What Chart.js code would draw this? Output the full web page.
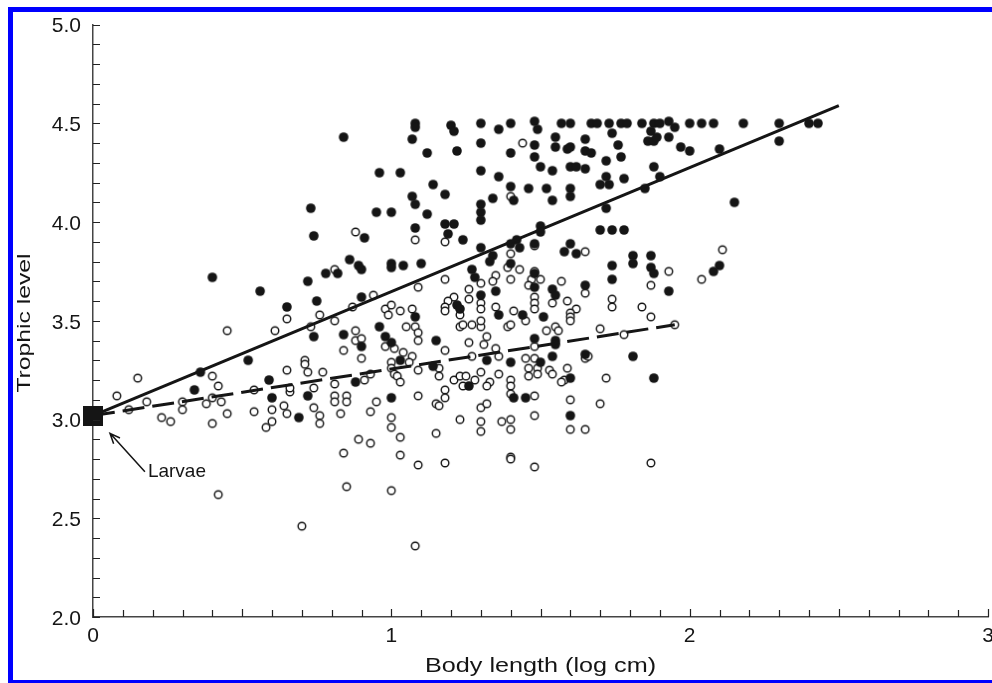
<!DOCTYPE html>
<html>
<head>
<meta charset="utf-8">
<title>Trophic level vs body length</title>
<script src="https://cdn.jsdelivr.net/npm/chart.js@4.4.0/dist/chart.umd.min.js"></script>
<style>
  html, body { margin: 0; padding: 0; background: #fff; }
  canvas { display: block; }
</style>
</head>
<body>
<canvas id="trophic" width="992" height="683"></canvas>
<script>
// filled circles [log body length, trophic level]
const filledPoints = [
  [0.40,3.72],[0.56,3.65],[0.74,3.93],[0.78,3.74],[0.72,3.70],[0.65,3.57],[0.75,3.60],[0.74,3.42],
  [0.52,3.30],[0.36,3.24],[0.34,3.15],[0.59,3.20],[0.60,3.11],[0.72,3.12],[0.69,3.01],[0.73,4.07],
  [0.84,4.43],[1.08,4.50],[1.08,4.48],[1.20,4.49],[1.21,4.46],[1.30,4.50],[1.36,4.47],[1.40,4.50],
  [1.48,4.51],[1.49,4.47],[1.57,4.50],[1.60,4.50],[1.67,4.50],[1.69,4.50],[1.73,4.50],[1.74,4.45],
  [1.77,4.50],[1.79,4.50],[1.84,4.50],[1.88,4.50],[1.87,4.46],[1.86,4.41],[1.88,4.41],
  [1.07,4.42],[1.12,4.35],[1.22,4.36],[1.30,4.40],[1.40,4.35],[1.48,4.39],[1.48,4.33],[1.55,4.43],
  [1.55,4.38],[1.59,4.37],[1.60,4.38],[1.65,4.42],[1.65,4.36],[1.67,4.35],[1.76,4.39],[1.77,4.33],
  [1.72,4.31],[0.96,4.25],[1.03,4.25],[1.30,4.26],[1.36,4.23],[1.50,4.28],[1.54,4.26],[1.60,4.28],
  [1.62,4.28],[1.65,4.27],[1.72,4.23],[1.70,4.19],[1.73,4.19],[1.78,4.22],[1.88,4.28],
  [1.14,4.19],[1.18,4.14],[1.40,4.18],[1.46,4.17],[1.52,4.17],[1.60,4.17],[1.60,4.13],[1.07,4.13],
  [1.08,4.09],[1.12,4.04],[1.34,4.12],[1.41,4.11],[1.54,4.11],[0.95,4.05],[1.00,4.05],[1.30,4.09],
  [1.30,4.05],[1.30,4.01],[1.18,3.99],[1.21,3.99],[1.08,3.97],[1.72,4.07],[1.85,4.17],[1.70,3.96],
  [1.74,3.96],[1.78,3.96],[1.50,3.98],[1.19,3.94],
  [1.90,4.50],[1.93,4.51],[1.95,4.48],[1.89,4.43],[1.93,4.43],[2.00,4.50],[2.04,4.50],[2.08,4.50],
  [2.18,4.50],[2.30,4.50],[2.40,4.50],[2.43,4.50],[2.30,4.41],[1.97,4.38],[2.00,4.36],[2.10,4.37],
  [1.90,4.23],[2.15,4.10],
  [0.91,3.92],[1.24,3.91],[1.50,3.95],[1.60,3.89],[1.58,3.85],[1.62,3.84],[1.48,3.89],[1.42,3.91],
  [1.43,3.87],[1.40,3.89],[1.30,3.87],[1.34,3.83],[1.33,3.80],[1.40,3.79],[1.81,3.83],[1.81,3.79],
  [1.87,3.83],[1.87,3.77],[1.88,3.74],[1.74,3.78],[1.74,3.71],[0.86,3.81],[0.89,3.78],[0.90,3.76],
  [0.82,3.74],[1.00,3.79],[1.00,3.77],[1.04,3.78],[1.10,3.79],[0.90,3.62],[1.27,3.76],[1.28,3.72],
  [1.30,3.63],[1.35,3.65],[1.48,3.74],[1.48,3.67],[1.44,3.53],[1.36,3.53],[1.51,3.52],[1.54,3.66],
  [1.55,3.63],[1.65,3.68],[1.22,3.58],[1.23,3.56],[1.08,3.52],[1.15,3.40],[0.96,3.47],[0.98,3.42],
  [1.00,3.39],[0.84,3.43],[0.90,3.37],[1.03,3.30],[1.14,3.27],[1.32,3.30],[1.40,3.29],[1.48,3.41],
  [1.55,3.40],[1.55,3.38],[1.54,3.32],[1.50,3.29],[1.60,3.21],[1.65,3.33],[1.81,3.32],[1.88,3.21],
  [0.88,3.19],[1.00,3.11],[1.26,3.17],[1.41,3.11],[1.45,3.11],[1.60,3.02],[1.93,3.65],[2.10,3.78],
  [2.08,3.75]
];

// open circles
const openPoints = [
  [0.15,3.21],[0.08,3.12],[0.18,3.09],[0.12,3.05],[0.45,3.45],[0.61,3.45],[0.65,3.51],[0.76,3.53],
  [0.73,3.47],[0.40,3.22],[0.42,3.17],[0.40,3.11],[0.38,3.08],[0.43,3.09],[0.30,3.09],[0.30,3.05],
  [0.23,3.01],[0.26,2.99],[0.45,3.03],[0.40,2.98],[0.54,3.04],[0.54,3.15],[0.60,3.05],[0.60,2.99],
  [0.58,2.96],[0.64,3.07],[0.65,3.03],[0.65,3.25],[0.66,3.14],[0.66,3.16],[0.71,3.30],[0.71,3.28],
  [0.72,3.24],[0.77,3.24],[0.74,3.16],[0.74,3.06],[0.76,3.02],[0.76,2.98],[0.42,2.62],[0.70,2.46],
  [0.88,3.95],[1.18,3.90],[1.08,3.91],[1.65,3.85],[1.48,3.88],[1.40,3.84],[1.87,3.68],[1.74,3.61],
  [1.74,3.57],[0.81,3.76],[1.18,3.71],[1.09,3.67],[0.94,3.63],[0.87,3.57],[0.81,3.50],[1.30,3.69],
  [1.30,3.59],[1.30,3.56],[1.35,3.73],[1.34,3.70],[1.40,3.71],[1.43,3.76],[1.47,3.71],[1.50,3.71],
  [1.46,3.68],[1.48,3.62],[1.48,3.59],[1.48,3.56],[1.45,3.50],[1.41,3.55],[1.54,3.59],[1.57,3.70],
  [1.65,3.64],[1.59,3.60],[1.62,3.56],[1.60,3.54],[1.60,3.52],[1.60,3.50],[1.70,3.46],[1.84,3.57],
  [1.87,3.52],[1.21,3.62],[1.19,3.60],[1.18,3.57],[1.18,3.55],[1.26,3.66],[1.26,3.61],[1.23,3.53],
  [1.23,3.47],[1.24,3.48],[1.27,3.48],[1.30,3.47],[1.30,3.50],[1.39,3.47],[1.40,3.48],[1.52,3.45],
  [1.55,3.47],[1.07,3.56],[0.98,3.56],[1.00,3.58],[1.03,3.55],[0.99,3.53],[1.08,3.47],[1.09,3.44],
  [1.09,3.40],[1.18,3.35],[0.98,3.37],[1.01,3.36],[1.04,3.34],[1.07,3.32],[1.06,3.29],[0.88,3.45],
  [0.88,3.40],[0.90,3.41],[0.84,3.35],[0.90,3.31],[1.00,3.29],[1.00,3.26],[1.01,3.23],[1.02,3.22],
  [1.03,3.19],[1.09,3.25],[1.16,3.26],[1.16,3.22],[1.26,3.39],[1.32,3.42],[1.31,3.38],[1.35,3.36],
  [1.27,3.32],[1.36,3.32],[1.36,3.23],[1.48,3.37],[1.45,3.31],[1.48,3.31],[1.46,3.26],[1.46,3.22],
  [1.49,3.26],[1.49,3.23],[1.53,3.25],[1.54,3.23],[1.59,3.26],[1.58,3.20],[1.57,3.19],[1.65,3.31],
  [1.66,3.32],[1.78,3.43],[1.72,3.21],[0.81,3.18],[0.91,3.20],[0.93,3.23],[0.81,3.12],[0.81,3.09],
  [0.85,3.12],[0.85,3.09],[0.83,3.03],[0.95,3.09],[0.93,3.04],[1.09,3.12],[1.00,3.01],[1.00,2.96],
  [1.03,2.91],[0.89,2.90],[0.93,2.88],[0.84,2.83],[1.03,2.82],[1.15,2.93],[1.15,3.08],[1.16,3.07],
  [1.18,3.15],[1.18,3.11],[1.21,3.20],[1.23,3.22],[1.25,3.22],[1.24,3.17],[1.28,3.20],[1.30,3.24],
  [1.33,3.19],[1.32,3.17],[1.23,3.00],[1.30,3.06],[1.32,3.08],[1.30,2.99],[1.30,2.94],[1.37,2.99],
  [1.40,3.00],[1.40,2.95],[1.40,3.20],[1.40,3.17],[1.40,3.13],[1.48,3.12],[1.48,3.02],[1.60,3.10],
  [1.60,2.95],[1.65,2.95],[1.70,3.08],[1.40,2.81],[1.40,2.80],[0.85,2.66],[1.00,2.64],[1.09,2.77],
  [1.18,2.78],[1.48,2.76],[1.87,2.78],[1.08,2.36],[1.93,3.75],[1.48,3.75],[1.56,3.45],[2.11,3.86],
  [2.04,3.71],[1.95,3.48],[1.44,4.40],[1.40,4.13],[1.35,3.57],[1.39,3.77],[1.05,3.47]
];

// regression lines (solid: all fish, dashed: open circles)
const fitAllX = [0, 2.5];
const fitAllY = [3.02, 4.59];
const fitOpenX = [0, 1.95];
const fitOpenY = [3.02, 3.48];

// larvae marker and its label
const larvaePoint = [0, 3.02];
const larvaeArrowTip = [0.057, 2.93];
const larvaeArrowTail = [0.174, 2.735];
const larvaeLabelAt = [0.184, 2.735];

const xTickLabels = [0, 1, 2, 3];
const yTickLabels = ["2.0", "2.5", "3.0", "3.5", "4.0", "4.5", "5.0"];

const FONT = '"Liberation Sans", Arial, Helvetica, sans-serif';
const INK = "#151515";

const toXY = (arr) => arr.map(([x, y]) => ({ x, y }));
const pair = (xs, ys) => xs.map((v, i) => ({ x: v, y: ys[i] }));

// marker sprites: using image point styles keeps Chart.js from
// padding the chart area by the marker radius
function sprite(size, paint) {
  const c = document.createElement("canvas");
  c.width = size;
  c.height = size;
  paint(c.getContext("2d"), size / 2);
  return c;
}
const filledDot = sprite(12, (g, m) => {
  g.fillStyle = INK;
  g.beginPath();
  g.arc(m, m, 4.8, 0, Math.PI * 2);
  g.fill();
});
const openDot = sprite(12, (g, m) => {
  g.fillStyle = "#fff";
  g.strokeStyle = INK;
  g.lineWidth = 1.4;
  g.beginPath();
  g.arc(m, m, 3.8, 0, Math.PI * 2);
  g.fill();
  g.stroke();
});
const larvaeSquare = sprite(20, (g) => {
  g.fillStyle = INK;
  g.fillRect(0, 0, 20, 20);
});

const frameAndText = {
  id: "frameAndText",
  beforeDraw(chart) {
    const { ctx, width, height } = chart;
    ctx.save();
    ctx.fillStyle = "#fff";
    ctx.fillRect(0, 0, width, height);
    // blue frame of the scanned figure
    ctx.fillStyle = "#0000ff";
    ctx.fillRect(8, 7, width - 8, 5);
    ctx.fillRect(8, 7, 5, height - 7);
    ctx.fillRect(8, 680, width - 8, 3);
    ctx.restore();
  },
  afterDraw(chart) {
    const { ctx, scales: { x, y } } = chart;
    const bottom = y.getPixelForValue(2);
    const left = x.getPixelForValue(0);
    ctx.save();

    // inward minor ticks every 0.1
    ctx.strokeStyle = "#222";
    ctx.lineWidth = 1.2;
    ctx.beginPath();
    for (let i = 0; i <= 30; i++) {
      const px = Math.round(x.getPixelForValue(i / 10)) + 0.5;
      ctx.moveTo(px, bottom);
      ctx.lineTo(px, bottom - (i % 5 === 0 ? 8 : 7));
      const py = Math.round(y.getPixelForValue(2 + i / 10)) + 0.5;
      ctx.moveTo(left, py);
      ctx.lineTo(left + 7, py);
    }
    ctx.stroke();

    // x tick labels
    ctx.fillStyle = INK;
    ctx.font = "21px " + FONT;
    ctx.textAlign = "center";
    ctx.textBaseline = "alphabetic";
    xTickLabels.forEach((v) => ctx.fillText(String(v), x.getPixelForValue(v), bottom + 25));

    // axis titles (the original lettering is a bit stretched)
    ctx.save();
    ctx.translate((x.left + x.right) / 2, 672);
    ctx.scale(1.2, 1);
    ctx.fillText("Body length (log cm)", 0, 0);
    ctx.restore();

    ctx.save();
    ctx.translate(25, 323);
    ctx.rotate(-Math.PI / 2);
    ctx.scale(1.3, 1);
    ctx.font = "19px " + FONT;
    ctx.textBaseline = "middle";
    ctx.fillText("Trophic level", 0, 0);
    ctx.restore();

    // Larvae arrow
    const tx = x.getPixelForValue(larvaeArrowTip[0]);
    const ty = y.getPixelForValue(larvaeArrowTip[1]);
    const sx = x.getPixelForValue(larvaeArrowTail[0]);
    const sy = y.getPixelForValue(larvaeArrowTail[1]);
    const ang = Math.atan2(ty - sy, tx - sx);
    ctx.strokeStyle = INK;
    ctx.lineWidth = 1.5;
    ctx.beginPath();
    ctx.moveTo(sx, sy);
    ctx.lineTo(tx, ty);
    ctx.moveTo(tx - 11 * Math.cos(ang - 0.4), ty - 11 * Math.sin(ang - 0.4));
    ctx.lineTo(tx, ty);
    ctx.lineTo(tx - 11 * Math.cos(ang + 0.4), ty - 11 * Math.sin(ang + 0.4));
    ctx.stroke();

    ctx.font = "19px " + FONT;
    ctx.textAlign = "left";
    ctx.textBaseline = "middle";
    ctx.fillText("Larvae", x.getPixelForValue(larvaeLabelAt[0]), y.getPixelForValue(larvaeLabelAt[1]));

    ctx.restore();
  },
};

const ctx = document.getElementById("trophic").getContext("2d");

const trophicChart = new Chart(ctx, {
  type: "scatter",
  data: {
    datasets: [
      {
        label: "Larvae",
        data: [{ x: larvaePoint[0], y: larvaePoint[1] }],
        pointStyle: larvaeSquare,
        pointRadius: 0.5,
        borderWidth: 0,
        clip: false,
      },
      {
        label: "All",
        data: pair(fitAllX, fitAllY),
        showLine: true,
        borderColor: INK,
        borderWidth: 3,
        pointRadius: 0,
        clip: false,
      },
      {
        label: "Open",
        data: pair(fitOpenX, fitOpenY),
        showLine: true,
        borderColor: INK,
        borderWidth: 3,
        borderDash: [22, 8],
        pointRadius: 0,
        clip: false,
      },
      {
        label: "filled",
        data: toXY(filledPoints),
        pointStyle: filledDot,
        pointRadius: 0.5,
        borderWidth: 0,
      },
      {
        label: "open",
        data: toXY(openPoints),
        pointStyle: openDot,
        pointRadius: 0.5,
        borderWidth: 0,
      },
    ],
  },
  options: {
    responsive: false,
    animation: false,
    events: [],
    layout: { padding: { top: 19.5, left: 0, right: 0, bottom: 0 } },
    plugins: {
      legend: { display: false },
      tooltip: { enabled: false },
    },
    scales: {
      x: {
        type: "linear",
        min: 0,
        max: 3,
        grid: { display: false, drawTicks: false },
        border: { display: true, color: "#444", width: 1.5 },
        ticks: { display: false },
        afterFit(scale) {
          scale.height = 66;
        },
      },
      y: {
        min: 2,
        max: 5,
        grid: { display: false, drawTicks: false },
        border: { display: true, color: "#444", width: 1.5 },
        ticks: {
          stepSize: 0.5,
          padding: 12,
          labelOffset: 2,
          color: INK,
          font: { family: FONT, size: 21 },
          callback: (v, i) => yTickLabels[i],
        },
        afterFit(scale) {
          scale.width = 93;
        },
      },
    },
  },
  plugins: [frameAndText],
});
</script>
</body>
</html>
